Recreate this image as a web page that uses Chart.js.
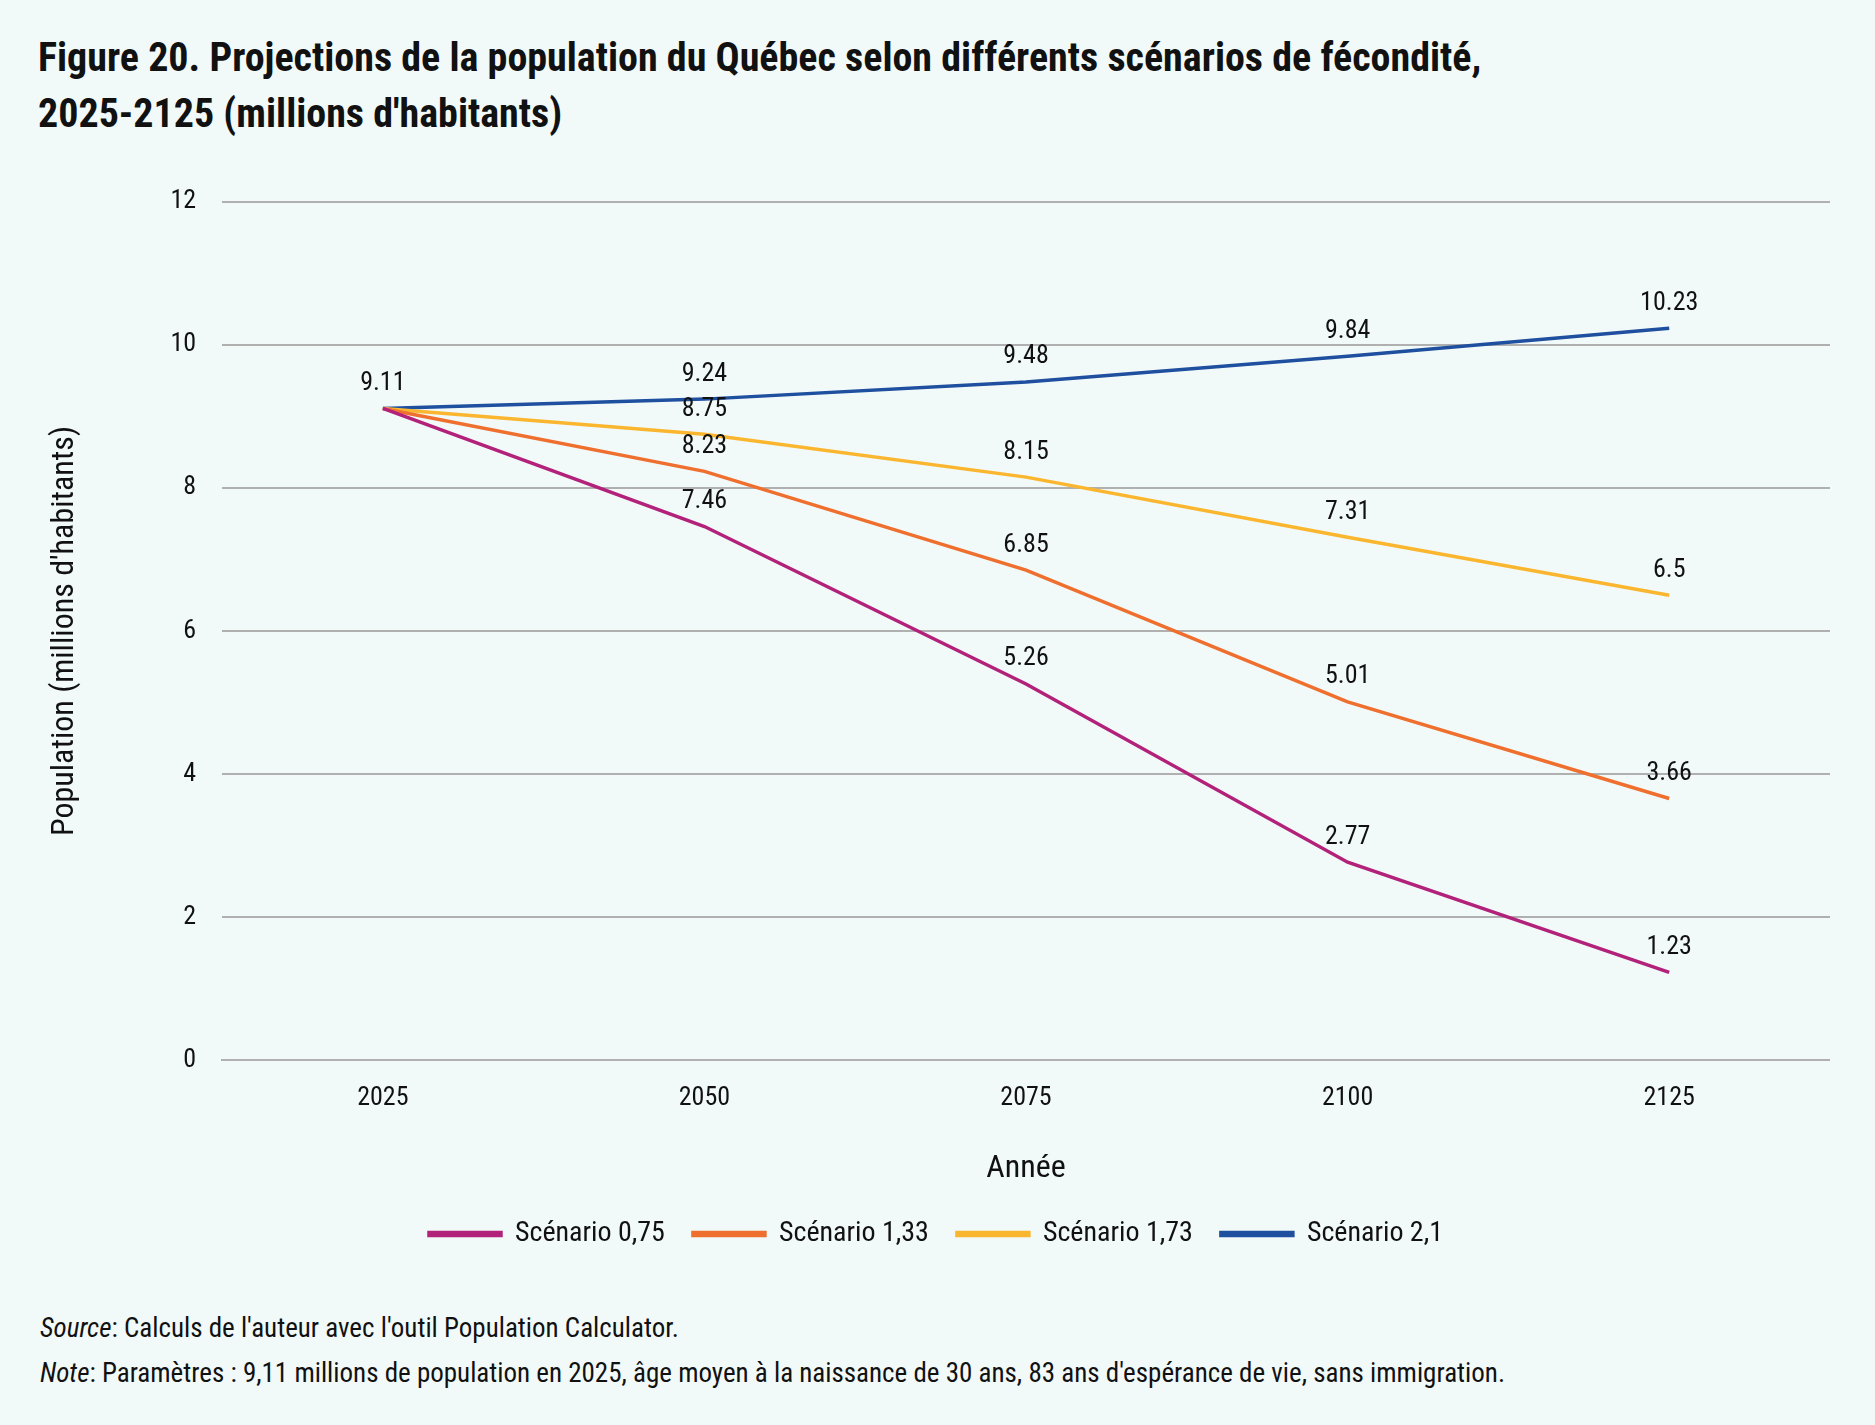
<!DOCTYPE html>
<html><head><meta charset="utf-8">
<script src="https://cdn.jsdelivr.net/npm/chart.js@4"></script>
<style>
body{margin:0;background:#f2faf9;font-family:'Liberation Sans Narrow','Roboto Condensed','Roboto',sans-serif;color:#111;}
#wrap{position:relative;width:1875px;height:1425px;}
h1{position:absolute;left:38px;top:30px;margin:0;font-size:40px;line-height:56px;font-weight:bold;}
#chart{position:absolute;left:30px;top:160px;width:1800px;height:1110px;}
.foot{position:absolute;left:40px;font-size:27px;}
</style></head><body>
<div id="wrap">
<h1>Figure 20. Projections de la population du Québec selon différents scénarios de fécondité,<br>2025-2125 (millions d'habitants)</h1>
<div id="chart"><canvas id="c"></canvas></div>
<div class="foot" style="top:1312px"><i>Source</i>: Calculs de l'auteur avec l'outil Population Calculator.</div>
<div class="foot" style="top:1357px"><i>Note</i>: Paramètres : 9,11 millions de population en 2025, âge moyen à la naissance de 30 ans, 83 ans d'espérance de vie, sans immigration.</div>
</div>
<script>
const years = ['2025', '2050', '2075', '2100', '2125'];
const s075 = [9.11, 7.46, 5.26, 2.77, 1.23];
const s133 = [9.11, 8.23, 6.85, 5.01, 3.66];
const s173 = [9.11, 8.75, 8.15, 7.31, 6.5];
const s21 = [9.11, 9.24, 9.48, 9.84, 10.23];

const font = "'Liberation Sans Narrow','Roboto Condensed','Roboto',sans-serif";

const labels = {
  id: 'labels',
  afterDatasetsDraw(chart) {
    const ctx = chart.ctx;
    ctx.save();
    ctx.font = '26px ' + font;
    ctx.fillStyle = '#111';
    ctx.textAlign = 'center';
    ctx.textBaseline = 'bottom';
    chart.data.datasets.forEach((ds, i) => {
      chart.getDatasetMeta(i).data.forEach((pt, j) => {
        if (j === 0 && i !== 0) return;
        ctx.fillText(String(ds.data[j]), pt.x, pt.y - 12);
      });
    });
    ctx.restore();
  }
};

const mk = (label, data, color) => ({label, data, borderColor: color, backgroundColor: color, borderWidth: 3.5, pointRadius: 0, tension: 0});

new Chart(document.getElementById('c'), {
  type: 'line',
  data: {
    labels: years,
    datasets: [
      mk('Scénario 0,75', s075, '#b3227a'),
      mk('Scénario 1,33', s133, '#ef6f2e'),
      mk('Scénario 1,73', s173, '#fbb630'),
      mk('Scénario 2,1', s21, '#1f4f9f')
    ]
  },
  options: {
    responsive: true,
    maintainAspectRatio: false,
    animation: false,
    layout: {padding: {top: 22, left: 12, right: 0, bottom: 12}},
    plugins: {
      legend: {
        position: 'bottom',
        labels: {font: {size: 28, family: font}, color: '#111', boxWidth: 72, boxHeight: 3, padding: 28}
      },
      tooltip: {enabled: false}
    },
    scales: {
      x: {
        offset: true,
        grid: {display: false},
        border: {display: true, color: '#b0b0b0', width: 2},
        ticks: {font: {size: 26, family: font}, color: '#111', padding: 14},
        title: {display: true, text: 'Année', font: {size: 32, family: font}, color: '#111', padding: {top: 22, bottom: 4}}
      },
      y: {
        min: 0, max: 12,
        ticks: {stepSize: 2, font: {size: 26, family: font}, color: '#111', padding: 26},
        grid: {color: '#b0b0b0', lineWidth: 2, drawTicks: false},
        border: {display: false},
        title: {display: true, text: "Population (millions d'habitants)", font: {size: 32, family: font}, color: '#111', padding: {bottom: 60}}
      }
    }
  },
  plugins: [labels]
});
</script>
</body></html>
